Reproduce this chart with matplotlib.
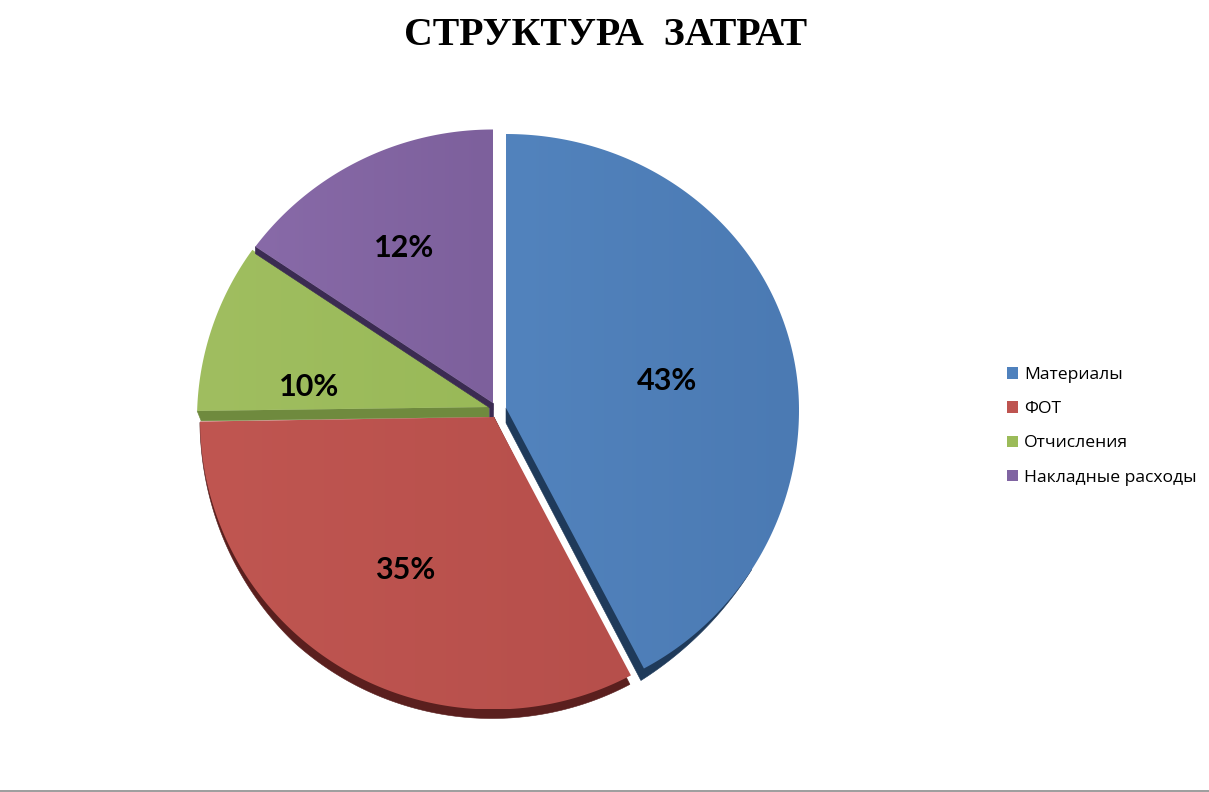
import numpy as np
import matplotlib
matplotlib.use("Agg")
import matplotlib.pyplot as plt
from matplotlib.patches import Polygon, Patch

title = "СТРУКТУРА  ЗАТРАТ"
categories = ["Материалы", "ФОТ", "Отчисления", "Накладные расходы"]
# Printed labels
pct_labels = ["43%", "35%", "10%", "12%"]
# Visible share of each slice
shares = [42.2, 32.8, 10.0, 15.0]
colors = ["#4F81BD", "#BE5450", "#9BBB59", "#8064A2"]
dark = ["#1F3A5A", "#5A1F1E", "#6F8A3E", "#3B2B52"]
left_col = ["#5283BD", "#C05651", "#A0BE60", "#886AA8"]
right_col = ["#4B7AB3", "#B64F4B", "#99B958", "#7D609C"]

# layout per slice: apex, ellipse centre, radii (horizontal, above, below)
apex_xy = [(506, 408), (494, 417), (489, 407), (493, 403)]
centre_xy = [(506, 410), (493, 419.5), (490, 419.5), (493, 419.5)]
radii = [(293, 276, 293), (293, 290, 290), (293, 290, 290), (296, 290, 290)]
# perspective nudges of the rim ends, degrees
start_adj = [0, 0, -1.7, -0.6]
end_adj = [0, 0.4, 0.2, 0]
# side face: offset at apex, offset at rim
apex_off = [(0, 15), (0, 9), (0, 10), (0, 7)]
rim_off = [(-3, 12), (-1, 9), (4, 10), (0, 7)]
blue_side_start = -33

label_xy = [(667, 381), (405, 570), (309, 387), (404, 248)]

fig = plt.figure(figsize=(12.09, 7.92), dpi=100)
ax = fig.add_axes([0, 0, 1, 1])
ax.set_xlim(0, 1209)
ax.set_ylim(792, 0)
ax.axis("off")


def arc(i, a0, a1, n=240):
    cx, cy = centre_xy[i]
    rx, rt, rb = radii[i]
    t = np.radians(np.linspace(a0, a1, n))
    ry = np.where(np.sin(t) >= 0, rt, rb)
    return np.column_stack([cx + rx * np.cos(t), cy - ry * np.sin(t)])


ends = 90 - np.cumsum(shares) * 3.6
starts = np.r_[90, ends[:-1]]


def side_polygon(i, a0, a1, apex):
    aoff = np.array(apex_off[i], dtype=float)
    roff = np.array(rim_off[i], dtype=float)
    if i == 0:
        rim = arc(i, blue_side_start, a1)
        u = np.linspace(0, 1, len(rim))
        side = rim + (u ** 1.3)[:, None] * roff
        return np.vstack([side, apex + aoff, apex])
    if i == 1:
        # red: side thins out toward its left end, the far end of the arc
        rim = arc(i, a0, a1)
        u = np.linspace(0, 1, len(rim))
        w = np.maximum(np.clip((1 - u) / 0.4, 0, 1), 0.1)
        return np.vstack([rim + w[:, None] * roff, apex + aoff, apex])
    # green and purple: only the straight edge at the start of the slice shows
    tip = arc(i, a0, a0, 1)
    return np.vstack([apex, apex + aoff, tip + roff, tip])


def draw_slice(i, z):
    a0, a1 = starts[i] + start_adj[i], ends[i] + end_adj[i]
    apex = np.array([apex_xy[i]], dtype=float)
    ax.add_patch(Polygon(side_polygon(i, a0, a1, apex), closed=True,
                         fc=dark[i], ec=dark[i], lw=0.4, zorder=z))
    if i == 3:
        # small dark block under the purple apex
        ax.add_patch(Polygon(np.vstack([apex + (-4, 2), apex + (-4, 14), apex + (0, 14), apex]),
                             closed=True, fc=dark[i], ec=dark[i], lw=0.4, zorder=z))

    outline = np.vstack([apex, arc(i, a0, a1)])
    face = Polygon(outline, closed=True, fc="none", ec="none", zorder=z + 0.1)
    ax.add_patch(face)
    c0 = np.array(matplotlib.colors.to_rgb(left_col[i]))
    c1 = np.array(matplotlib.colors.to_rgb(right_col[i]))
    grad = np.linspace(0, 1, 256)[None, :, None]
    img = c0[None, None, :] * (1 - grad) + c1[None, None, :] * grad
    im = ax.imshow(img, extent=[outline[:, 0].min(), outline[:, 0].max(),
                                outline[:, 1].max(), outline[:, 1].min()],
                   aspect="auto", zorder=z + 0.1, interpolation="bilinear")
    im.set_clip_path(face)


for z, i in enumerate([0, 2, 3, 1]):
    draw_slice(i, 2 + z)
ax.set_xlim(0, 1209)
ax.set_ylim(792, 0)

for (x, y), s in zip(label_xy, pct_labels):
    ax.text(x, y, s, ha="center", va="center", fontsize=22, fontweight="bold",
            family="Lato", color="black", zorder=10)

ax.text(606, 35.5, title, ha="center", va="center", fontsize=28.6, fontweight="bold",
        family="Liberation Serif", color="black")

handles = [Patch(fc=c, ec="none") for c in colors]
ax.legend(handles, categories, loc="upper left", bbox_to_anchor=(1000 / 1209, 1 - 360 / 792),
          frameon=False, labelspacing=1.04, handlelength=0.63, handleheight=0.63,
          handletextpad=0.35, borderpad=0.4, borderaxespad=0,
          prop={"family": "Open Sans", "size": 12.6})

ax.plot([0, 1209], [791.3, 791.3], color="#8c8c8c", lw=1.2, clip_on=False)

fig.savefig("out.png", dpi=100, facecolor="white")
